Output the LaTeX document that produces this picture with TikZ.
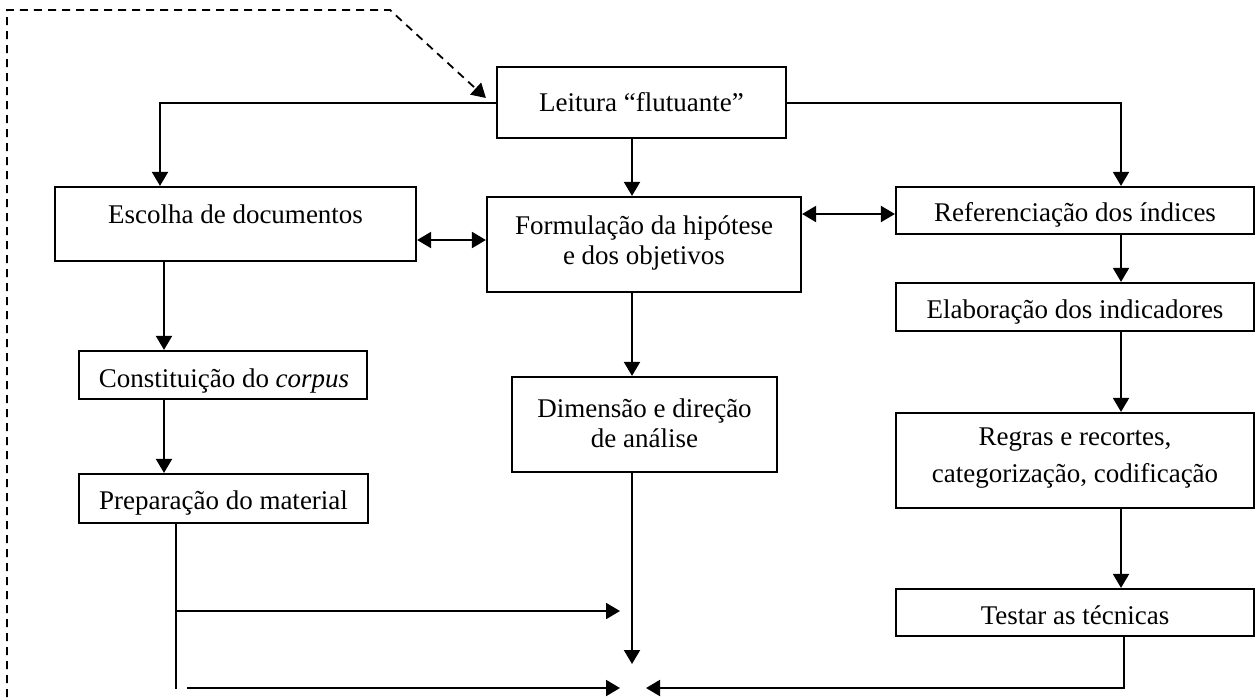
\documentclass[tikz,border=0pt]{standalone}
\usepackage{fontspec}
\setmainfont{Liberation Serif}
\usetikzlibrary{arrows.meta,calc}
\begin{document}
\begin{tikzpicture}[x=0.5pt,y=-0.5pt,
  box/.style={draw=black, line width=1.1pt, inner sep=0pt},
  lbl/.style={font=\fontsize{13.5pt}{15pt}\selectfont, inner sep=0pt, align=center},
  conn/.style={line width=1pt, -{Triangle[length=7pt,width=8pt]}},
  dbl/.style={line width=1pt, {Triangle[length=7pt,width=8pt]}-{Triangle[length=7pt,width=8pt]}},
  plainline/.style={line width=1pt},
  fb/.style={line width=0.9pt, dash pattern=on 4pt off 3pt, -{Triangle[length=7pt,width=8pt]}}]
\path[use as bounding box, fill=white] (0,0) rectangle (1256,697);

% boxes
\node[box, minimum width=144.5pt, minimum height=35.5pt] (lei) at (641.5,102.5) {};
\node[lbl, anchor=base] (leiT) at (641.5,111.5) {Leitura “flutuante”};
\node[box, minimum width=180.5pt, minimum height=37pt] (esc) at (235.5,224) {};
\node[lbl, anchor=base] (escT) at (235.5,223) {Escolha de documentos};
\node[box, minimum width=157pt, minimum height=47.5pt] (form) at (644,244.5) {};
\node[lbl] (formT) at (644,242.5) {Formulação da hipótese\\e dos objetivos};
\node[box, minimum width=179pt, minimum height=23.5pt] (ref) at (1075,210.5) {};
\node[lbl, anchor=base] (refT) at (1075,221) {Referenciação dos índices};
\node[box, minimum width=179pt, minimum height=24pt] (ela) at (1075,307) {};
\node[lbl, anchor=base] (elaT) at (1075,318.5) {Elaboração dos indicadores};
\node[box, minimum width=179pt, minimum height=47.5pt] (reg) at (1075,460.5) {};
\node[lbl, font=\fontsize{13.5pt}{18.5pt}\selectfont] (regT) at (1075,458) {Regras e recortes,\\categorização, codificação};
\node[box, minimum width=179pt, minimum height=23.5pt] (tes) at (1075,612.5) {};
\node[lbl, anchor=base] (tesT) at (1075,624) {Testar as técnicas};
\node[box, minimum width=144pt, minimum height=24pt] (con) at (223,375) {};
\node[lbl, anchor=base] (conT) at (224,387) {Constituição do \textit{corpus}};
\node[box, minimum width=144.5pt, minimum height=24.5pt] (pre) at (223.5,498.5) {};
\node[lbl, anchor=base] (preT) at (223.5,509.5) {Preparação do material};
\node[box, minimum width=132.5pt, minimum height=47.5pt] (dim) at (644.5,424.5) {};
\node[lbl] (dimT) at (644.5,423.5) {Dimensão e direção\\de análise};

% connectors
\draw[conn] (lei.west) -| ($(esc.north)+(-75.5,0)$);
\draw[conn] (lei.east) -| ($(ref.north)+(46,0)$);
\draw[conn] ($(lei.south)+(-9.5,0)$) coordinate (a1) -- (a1 |- form.north);
\draw[dbl] ($(esc.east)+(0,16)$) coordinate (a2) -- (a2 -| form.west);
\draw[dbl] ($(ref.west)+(0,3.5)$) coordinate (a3) -- (a3 -| form.east);
\draw[conn] ($(esc.south)+(-71.5,0)$) coordinate (a4) -- (a4 |- con.north);
\draw[conn] ($(con.south)+(-59,0)$) coordinate (a5) -- (a5 |- pre.north);
\draw[conn] ($(form.south)+(-12,0)$) coordinate (a6) -- (a6 |- dim.north);
\draw[conn] ($(ref.south)+(46,0)$) coordinate (a7) -- (a7 |- ela.north);
\draw[conn] ($(ela.south)+(46,0)$) coordinate (a8) -- (a8 |- reg.north);
\draw[conn] ($(reg.south)+(46,0)$) coordinate (a9) -- (a9 |- tes.north);

% bottom convergence
\coordinate (dimEnd) at (632,664);
\coordinate (pEnd) at (176,689);
\coordinate (brA) at (176,611);
\coordinate (tipA) at (620,611);
\coordinate (lowS) at (187,688);
\coordinate (tipB) at (620,688);
\coordinate (tipC) at (646,688);
\draw[conn] ($(dim.south)+(-12.5,0)$) -- (dimEnd);
\draw[plainline] ($(pre.south)+(-47.5,0)$) -- (pEnd);
\draw[conn] (brA) -- (tipA);
\draw[conn] (lowS) -- (tipB);
\draw[conn] ($(tes.south)+(49,0)$) |- (tipC);

% dashed feedback
\coordinate (fbStart) at (7,697);
\coordinate (fbCorner) at (7,10);
\coordinate (fbTop) at (390,10);
\draw[fb] (fbStart) -- (fbCorner) -- (fbTop) -- ($(lei.west)+(-10,-4.5)$);
\end{tikzpicture}
\end{document}
